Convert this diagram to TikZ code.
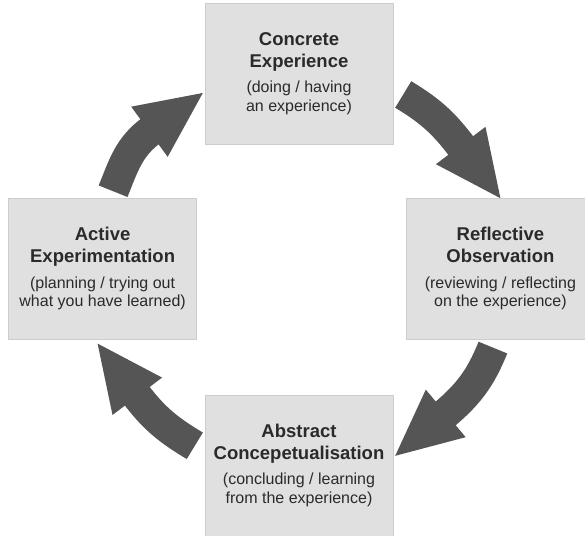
\documentclass[tikz,border=0pt]{standalone}
\usepackage{fontspec}
\setmainfont{Liberation Sans}
\usepackage{tikz}
\usetikzlibrary{positioning}

\definecolor{boxgray}{HTML}{E0E0E0}
\definecolor{edgegray}{HTML}{CDCDCD}
\definecolor{arrowgray}{HTML}{555555}
\definecolor{inkdark}{HTML}{2A2A2A}

\newcommand{\stagehead}[1]{{\fontsize{18.5}{18.5}\selectfont\bfseries #1}}

\begin{document}
\begin{tikzpicture}[
        x=1pt, y=1pt,
        stage/.style={
            rectangle,
            draw=edgegray,
            fill=boxgray,
            minimum width=188pt,
            minimum height=141pt,
            align=center,
            text=inkdark,
            font=\fontsize{16}{18.5}\selectfont
        },
        band/.style={
            draw=arrowgray,
            line width=31pt
        },
        head/.style={
            fill=arrowgray
        }
    ]
    \useasboundingbox (0,0) rectangle (585,535);

    % Stages (clockwise from the top)
    \node[stage] (concrete) at (299,461.5) {
        \stagehead{Concrete}\\[3.5pt]
        \stagehead{Experience}\\[7pt]
        (doing / having\\
        an experience)
    };

    \node[stage, below right=54pt and 13pt of concrete] (reflective) {
        \stagehead{Reflective}\\[3.5pt]
        \stagehead{Observation}\\[7pt]
        (reviewing / reflecting\\
        on the experience)
    };

    \node[stage, below left=54pt and 8pt of concrete] (active) {
        \stagehead{Active}\\[3.5pt]
        \stagehead{Experimentation}\\[7pt]
        (planning / trying out\\
        what you have learned)
    };

    \node[stage, below right=55pt and 8pt of active] (abstract) {
        \stagehead{Abstract}\\[3.5pt]
        \stagehead{Concepetualisation}\\[7pt]
        (concluding / learning\\
        from the experience)
    };

    % Arrow tips and the ends of the bands
    \coordinate (tipR) at (reflective.north);
    \coordinate (tipB) at ([shift={(2,9.5)}]abstract.east);
    \coordinate (tipL) at ([shift={(-5,-4)}]active.south);
    \coordinate (tipT) at ([shift={(-2,-19.5)}]concrete.west);
    \coordinate (endR) at ([shift={(127:63)}]tipR);
    \coordinate (endB) at ([shift={(40:63)}]tipB);
    \coordinate (endL) at ([shift={(-53:63)}]tipL);
    \coordinate (endT) at ([shift={(-144:63)}]tipT);

    % Arrows
    \draw[band] ([shift={(10,-21)}]concrete.east) to[out=-31, in=127] (endR);
    \fill[head] (tipR) -- +(101.8:72.9) -- +(152.2:72.9) -- cycle;

    \draw[band] ([shift={(-7.5,-8)}]reflective.south) to[out=-112, in=40] (endB);
    \fill[head] (tipB) -- +(14.8:72.9) -- +(65.2:72.9) -- cycle;

    \draw[band] ([shift={(-10,19.5)}]abstract.west) to[out=149, in=-53] (endL);
    \fill[head] (tipL) -- +(-78.2:72.9) -- +(-27.8:72.9) -- cycle;

    \draw[band] ([shift={(10.5,7)}]active.north) to[out=68, in=-144] (endT);
    \fill[head] (tipT) -- +(-169.2:72.9) -- +(-118.8:72.9) -- cycle;

\end{tikzpicture}
\end{document}
